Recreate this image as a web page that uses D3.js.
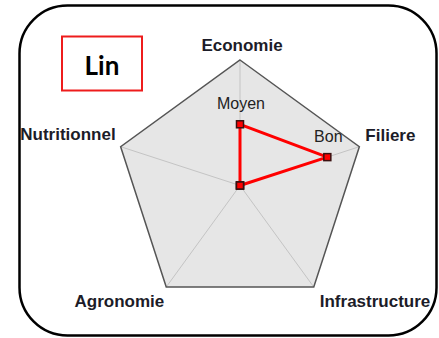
<!DOCTYPE html>
<html>
<head>
<meta charset="utf-8">
<script src="https://cdn.jsdelivr.net/npm/d3@7"></script>
<style>
  html, body { margin: 0; padding: 0; background: #fff; }
  svg { display: block; }
</style>
</head>
<body>
<div id="chart"></div>
<script>
// axes, clockwise from the top
var axes = ["Economie", "Filiere", "Infrastructure", "Agronomie", "Nutritionnel"];
var values = [2, 3, 0, 0, 0];
var valueLabels = ["Moyen", "Bon", "", "", ""];
var maxValue = 4.1;
var title = "Lin";

var width = 439, height = 338;
var cx = 240, cy = 185.5, radius = 125.5;

// where each axis name sits relative to its vertex
var labelPlace = [
  { dx: 2,  dy: -9.5, anchor: "middle" },
  { dx: 6,  dy: -6,   anchor: "start" },
  { dx: 6,  dy: 20,   anchor: "start" },
  { dx: -2, dy: 20,   anchor: "end" },
  { dx: -5, dy: -6.5, anchor: "end" }
];

var svg = d3.select('#chart').append('svg')
  .attr('width', width)
  .attr('height', height);

// rounded frame
svg.append('rect')
  .attr('x', 19.5).attr('y', 5.5)
  .attr('width', 417).attr('height', 330)
  .attr('rx', 48).attr('ry', 48)
  .style('fill', '#fff')
  .style('stroke', '#000')
  .style('stroke-width', 2.5);

// title box
svg.append('rect')
  .attr('x', 62).attr('y', 36.5)
  .attr('width', 80).attr('height', 54)
  .style('fill', '#fff')
  .style('stroke', '#ee1c1c')
  .style('stroke-width', 2);

svg.append('text')
  .attr('x', 102).attr('y', 75)
  .attr('text-anchor', 'middle')
  .style('font-family', 'Lato, "Open Sans", sans-serif')
  .style('font-weight', 'bold')
  .style('font-size', '26px')
  .style('fill', '#000')
  .text(title);

var r = d3.scaleLinear().domain([0, maxValue]).range([0, radius]);
var angle = d3.scaleLinear().domain([0, axes.length]).range([-Math.PI / 2, 1.5 * Math.PI]);

function point(i, v) {
  var a = angle(i);
  return [cx + r(v) * Math.cos(a), cy + r(v) * Math.sin(a)];
}

var line = d3.line();

// background pentagon
var outer = axes.map(function (d, i) { return point(i, maxValue); });
svg.append('path')
  .attr('d', line(outer) + 'Z')
  .style('fill', '#e6e6e6')
  .style('stroke', 'none');

// spokes
svg.selectAll('.spoke').data(axes).enter().append('line')
  .attr('class', 'spoke')
  .attr('x1', cx).attr('y1', cy)
  .attr('x2', function (d, i) { return point(i, maxValue)[0]; })
  .attr('y2', function (d, i) { return point(i, maxValue)[1]; })
  .style('stroke', '#c4c4c4')
  .style('stroke-width', 1);

svg.append('path')
  .attr('d', line(outer) + 'Z')
  .style('fill', 'none')
  .style('stroke', '#555')
  .style('stroke-width', 1.5);

// axis names
svg.selectAll('.axis-label').data(axes).enter().append('text')
  .attr('class', 'axis-label')
  .attr('x', function (d, i) { return point(i, maxValue)[0] + labelPlace[i].dx; })
  .attr('y', function (d, i) { return point(i, maxValue)[1] + labelPlace[i].dy; })
  .attr('text-anchor', function (d, i) { return labelPlace[i].anchor; })
  .style('font-family', '"Liberation Sans", Arial, sans-serif')
  .style('font-weight', 'bold')
  .style('font-size', '17px')
  .style('fill', '#1c1c28')
  .text(function (d) { return d; });

// series
var pts = values.map(function (v, i) { return point(i, v); });
svg.append('path')
  .attr('d', line(pts) + 'Z')
  .style('fill', 'none')
  .style('stroke', '#ff0000')
  .style('stroke-width', 3)
  .style('stroke-linejoin', 'round');

svg.selectAll('.marker').data(values).enter().append('rect')
  .attr('class', 'marker')
  .attr('x', function (d, i) { return point(i, d)[0] - 3.5; })
  .attr('y', function (d, i) { return point(i, d)[1] - 3.5; })
  .attr('width', 7).attr('height', 7)
  .style('fill', '#ff0000')
  .style('stroke', '#3a1010')
  .style('stroke-width', 1.5);

svg.selectAll('.value-label').data(values).enter().append('text')
  .attr('class', 'value-label')
  .attr('x', function (d, i) { return point(i, d)[0] + 1; })
  .attr('y', function (d, i) { return point(i, d)[1] - 15; })
  .attr('text-anchor', 'middle')
  .style('font-family', '"Liberation Sans", Arial, sans-serif')
  .style('font-size', '16px')
  .style('fill', '#222')
  .text(function (d, i) { return valueLabels[i]; });
</script>
</body>
</html>
